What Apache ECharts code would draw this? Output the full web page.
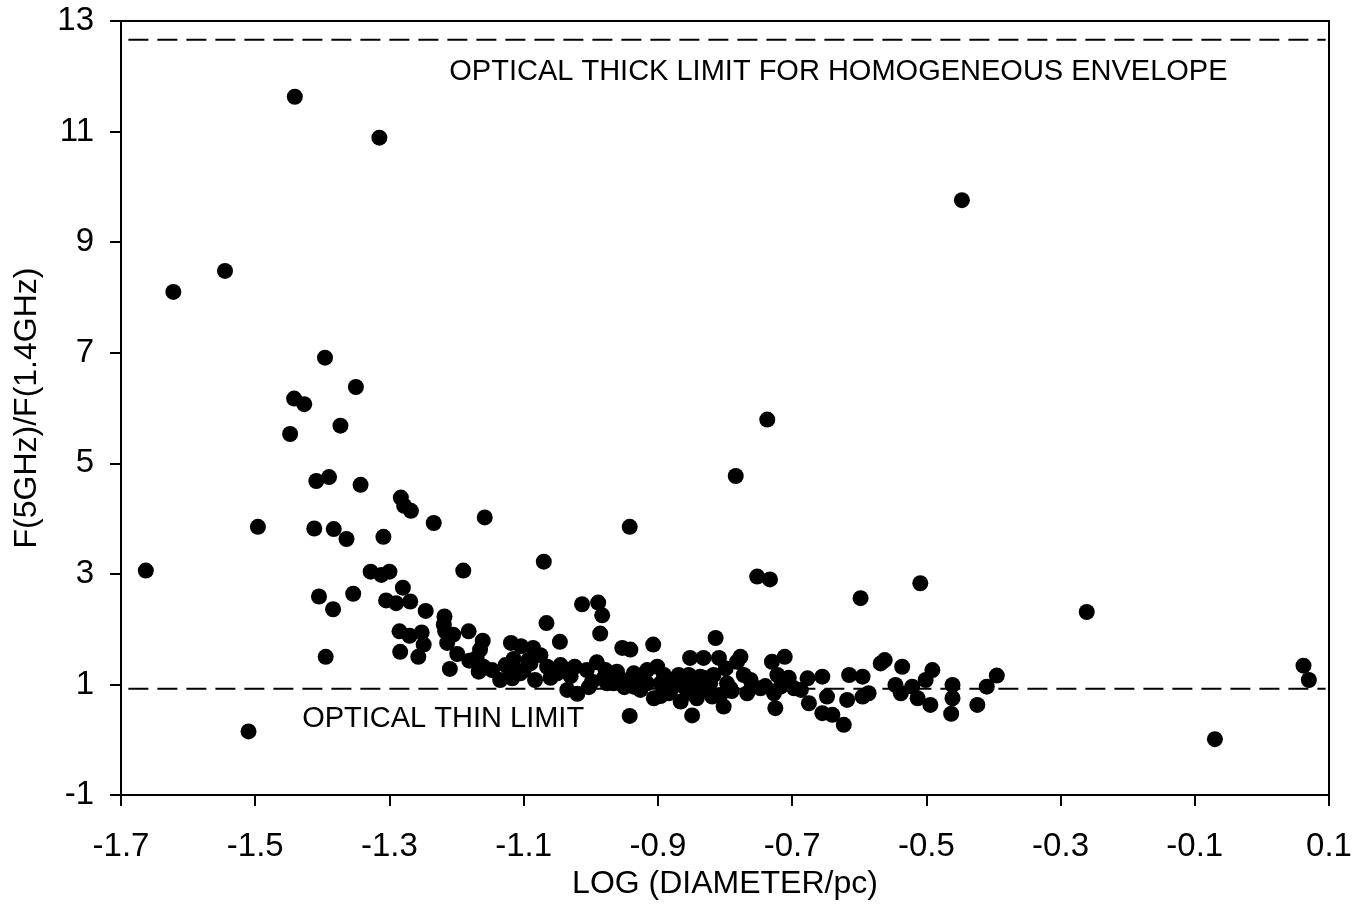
<!DOCTYPE html>
<html>
<head>
<meta charset="utf-8">
<script src="https://cdn.jsdelivr.net/npm/echarts@6/dist/echarts.min.js"></script>
<style>
html,body{margin:0;padding:0;background:#fff;}
#chart{width:1367px;height:919px;}
</style>
</head>
<body>
<div id="chart"></div>
<script>
// x: LOG (DIAMETER/pc), y: F(5GHz)/F(1.4GHz)
const logDiameter = [
-1.663,-1.622,-1.545,-1.441,-1.315,-1.496,-1.510,-1.396,-1.442,-1.427,
-1.350,-1.373,-1.448,-1.409,-1.390,-1.343,-1.283,-1.278,-1.268,-1.234,
-1.158,-1.412,-1.383,-1.364,-1.309,-1.328,-1.312,-1.300,-1.190,-1.280,
-1.405,-1.354,-1.384,-1.305,-1.290,-1.269,-1.246,-1.218,-1.219,-1.217,
-1.205,-1.214,-1.199,-1.182,-1.285,-1.270,-1.252,-1.249,-1.284,-1.257,
-1.395,-1.210,-1.161,-1.165,-1.170,-1.181,-1.167,-1.147,-1.119,-1.104,
-1.086,-1.115,-1.093,-1.117,-1.105,-1.065,-1.045,-1.024,-1.006,-0.991,
-1.035,-1.020,-1.003,-0.981,-1.070,-1.013,-0.989,-0.983,-0.986,-1.066,
-1.046,-0.942,-0.942,-0.849,-1.135,-1.083,-1.060,-1.127,-1.075,-0.953,
-0.941,-0.907,-0.814,-0.852,-0.832,-0.809,-0.782,-0.799,-0.978,-0.961,
-0.936,-0.916,-0.901,-0.891,-0.869,-0.854,-0.837,-0.817,-0.976,-0.953,
-0.936,-0.916,-0.896,-0.881,-0.861,-0.842,-0.822,-0.797,-0.906,-0.884,
-0.866,-0.842,-0.819,-0.802,-0.926,-0.777,-0.730,-0.711,-0.772,-0.792,
-0.767,-0.747,-0.722,-0.705,-0.727,-0.725,-0.677,-0.655,-0.675,-0.655,
-0.640,-0.623,-0.618,-0.615,-0.595,-0.586,-0.568,-0.562,-0.536,-0.546,
-0.538,-0.521,-0.513,-0.491,-0.501,-0.494,-0.461,-0.461,-0.463,-0.424,
-0.410,-0.395,-0.648,-0.687,-0.717,-0.697,-0.595,-0.752,-0.733,-0.598,
-0.509,-0.784,-0.737,-0.447,-0.261,0.062,0.070,-0.070,-0.926,-0.855,
-0.828,-0.807,-0.966,-0.896,-0.762,-0.740,-1.160,
-1.121,-1.100,-1.090,-1.050,-1.030,-0.998,-0.968,-0.950,-0.928,-0.878,
-0.858,-0.832,-0.790,-0.760
];
const fluxRatio = [
3.06,8.10,8.48,11.63,10.89,3.85,0.15,6.91,6.17,6.07,
6.38,5.68,5.53,4.68,4.75,4.61,4.38,4.23,4.14,3.92,
4.02,3.82,3.81,3.63,3.67,3.04,2.98,3.04,3.06,2.75,
2.59,2.64,2.36,2.52,2.47,2.50,2.33,2.23,2.08,1.96,
1.90,1.75,1.55,1.96,1.96,1.88,1.94,1.72,1.59,1.50,
1.50,1.28,1.79,1.63,1.48,1.43,1.23,1.26,1.75,1.69,
1.66,1.46,1.44,1.11,1.20,1.32,1.35,1.32,1.26,1.40,
0.90,0.83,0.95,1.11,3.22,2.45,2.48,2.25,1.92,2.11,
1.77,3.85,0.43,0.44,1.08,1.08,1.12,1.35,1.53,1.66,
1.63,1.72,1.84,1.48,1.48,1.48,1.41,1.29,1.26,1.23,
1.20,1.26,1.32,1.17,1.17,1.17,1.14,1.17,1.02,1.08,
0.96,1.02,1.02,0.90,0.96,1.02,1.02,1.02,0.75,0.84,
0.69,0.75,0.78,0.60,0.90,1.50,1.41,1.50,1.17,0.93,
0.84,0.93,1.17,1.12,0.84,0.57,1.11,1.14,0.66,0.48,
0.45,0.27,0.72,1.17,1.14,0.84,1.38,1.44,1.32,0.99,
0.84,0.96,0.75,1.26,1.08,0.63,0.99,0.75,0.47,0.63,
0.96,1.16,0.78,0.90,0.96,0.93,0.78,2.95,2.90,2.56,
2.83,4.77,5.79,9.76,2.31,1.34,1.08,0.01,1.16,0.85,
0.90,0.81,1.02,0.79,1.08,0.97,1.32,
1.30,1.25,1.38,1.20,1.15,1.05,1.15,0.95,1.10,1.05,
1.08,1.12,0.88,0.95
];

const thickLimit = 12.66;
const thinLimit = 0.92;
const limitLineX = [-1.689, 0.095];
const thickLabel = 'OPTICAL THICK LIMIT FOR HOMOGENEOUS ENVELOPE';
const thinLabel = 'OPTICAL THIN LIMIT';
const thickLabelPos = [-0.631, 12.08];
const thinLabelPos = [-1.220, 0.38];

const xTicks = { min: -1.7, max: 0.1, interval: 0.2 };
const yTicks = { min: -1, max: 13, interval: 2 };

const points = logDiameter.map((x, i) => [x, fluxRatio[i]]);
const FONT = "'Liberation Sans', Arial, sans-serif";
const FS_TICK = 33;
const FS_NAME = 32;
const FS_NOTE = 29;

const chart = echarts.init(document.getElementById('chart'), null, { renderer: 'canvas' });
chart.setOption({
  animation: false,
  backgroundColor: '#ffffff',
  grid: { left: 121, right: 38, top: 21, bottom: 124, show: true, borderColor: '#000', borderWidth: 2, backgroundColor: 'transparent' },
  xAxis: {
    type: 'value', min: xTicks.min, max: xTicks.max, interval: xTicks.interval,
    name: 'LOG (DIAMETER/pc)', nameLocation: 'middle', nameGap: 68,
    nameTextStyle: { color: '#000', fontSize: FS_NAME, fontFamily: FONT },
    axisLine: { show: true, onZero: false, lineStyle: { color: '#000', width: 2 } },
    axisTick: { show: true, inside: false, length: 11, lineStyle: { color: '#000', width: 2 } },
    axisLabel: { color: '#000', fontSize: FS_TICK, fontFamily: FONT, margin: 35,
      formatter: v => (Math.round(v * 10) / 10).toFixed(1) },
    splitLine: { show: false }
  },
  yAxis: {
    type: 'value', min: yTicks.min, max: yTicks.max, interval: yTicks.interval,
    name: 'F(5GHz)/F(1.4GHz)', nameLocation: 'middle', nameGap: 78, nameRotate: 90,
    nameTextStyle: { color: '#000', fontSize: FS_NAME, fontFamily: FONT },
    axisLine: { show: true, onZero: false, lineStyle: { color: '#000', width: 2 } },
    axisTick: { show: true, inside: false, length: 11, lineStyle: { color: '#000', width: 2 } },
    axisLabel: { color: '#000', fontSize: FS_TICK, fontFamily: FONT, margin: 27 },
    splitLine: { show: false }
  },
  series: [
    {
      type: 'line', name: 'thick', symbol: 'none', silent: true,
      data: [[limitLineX[0], thickLimit], [limitLineX[1], thickLimit]],
      lineStyle: { color: '#000', width: 2, type: [20, 9], opacity: 1 }
    },
    {
      type: 'line', name: 'thin', symbol: 'none', silent: true,
      data: [[limitLineX[0], thinLimit], [limitLineX[1], thinLimit]],
      lineStyle: { color: '#000', width: 2, type: [20, 9], opacity: 1 }
    },
    {
      type: 'scatter', name: 'data', symbol: 'circle', symbolSize: 16,
      itemStyle: { color: '#000', borderWidth: 0, opacity: 1 },
      data: points
    },
    {
      type: 'scatter', name: 'labels', symbolSize: 0, silent: true,
      itemStyle: { opacity: 1 },
      data: [
        { value: thickLabelPos, name: thickLabel },
        { value: thinLabelPos, name: thinLabel }
      ],
      label: { show: true, position: 'inside', formatter: p => p.name,
        color: '#000', fontSize: FS_NOTE, fontFamily: FONT, opacity: 1 }
    }
  ]
});
</script>
</body>
</html>
